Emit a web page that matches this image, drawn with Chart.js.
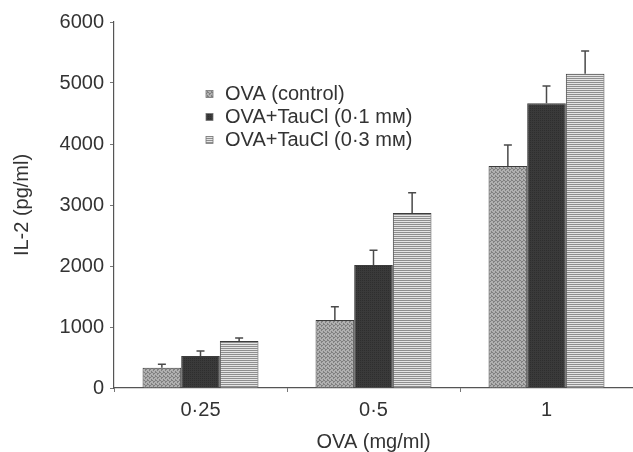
<!DOCTYPE html>
<html>
<head>
<meta charset="utf-8">
<script src="https://cdn.jsdelivr.net/npm/chart.js@4.4.1/dist/chart.umd.min.js"></script>
<style>
  html, body { margin: 0; padding: 0; background: #fff; overflow: hidden; }
  #wrap { width: 633px; height: 452px; }
</style>
</head>
<body>
<div id="wrap"><canvas id="c" width="633" height="452"></canvas></div>
<script>
// ---- data ----
const categories = ['0·25', '0·5', '1'];
const seriesNames = ['OVA (control)', 'OVA+TauCl (0·1 mᴍ)', 'OVA+TauCl (0·3 mᴍ)'];
const ovaControl = [330, 1115, 3640];
const tau01 = [525, 2015, 4670];
const tau03 = [770, 2870, 5150];
const errControl = [60, 215, 345];
const err01 = [80, 245, 280];
const err03 = [50, 330, 375];
const yTicks = [0, 1000, 2000, 3000, 4000, 5000, 6000];

const FONT = '"Liberation Sans", Arial, Helvetica, sans-serif';
const TEXT = '#333333';

function makePattern(kind) {
  const c = document.createElement('canvas');
  const ctx = c.getContext('2d');
  if (kind === 'stipple') {
    c.width = 4; c.height = 4;
    ctx.fillStyle = '#b0b0b0'; ctx.fillRect(0, 0, 4, 4);
    ctx.fillStyle = '#808080';
    [[0,0],[2,1],[1,2],[3,3],[3,0],[1,1]].forEach(p => ctx.fillRect(p[0], p[1], 1, 1));
  } else if (kind === 'dark') {
    c.width = 2; c.height = 2;
    ctx.fillStyle = '#3a3a3a'; ctx.fillRect(0, 0, 2, 2);
    ctx.fillStyle = '#2e2e2e'; ctx.fillRect(0, 0, 1, 1);
  } else {
    c.width = 2; c.height = 2;
    ctx.fillStyle = '#e4e4e4'; ctx.fillRect(0, 0, 2, 2);
    ctx.fillStyle = '#8e8e8e'; ctx.fillRect(0, 0, 2, 1);
  }
  return ctx.createPattern(c, 'repeat');
}
const fills = [makePattern('stipple'), makePattern('dark'), makePattern('lines')];
const errors = [errControl, err01, err03];

const errorBarPlugin = {
  id: 'errorBars',
  afterDatasetsDraw(chart) {
    const ctx = chart.ctx;
    const y = chart.scales.y;
    ctx.save();
    ctx.strokeStyle = '#4a4a4a';
    ctx.lineWidth = 1.5;
    chart.data.datasets.forEach((ds, di) => {
      const meta = chart.getDatasetMeta(di);
      meta.data.forEach((bar, i) => {
        const v = ds.data[i];
        const e = errors[di][i];
        const x = bar.x;
        const y0 = y.getPixelForValue(v);
        const y1 = y.getPixelForValue(v + e);
        ctx.beginPath();
        ctx.moveTo(x, y0); ctx.lineTo(x, y1);
        ctx.moveTo(x - 4, y1); ctx.lineTo(x + 4, y1);
        ctx.stroke();
      });
    });
    ctx.restore();
  }
};

const legendPlugin = {
  id: 'innerLegend',
  afterDraw(chart) {
    const ctx = chart.ctx;
    ctx.save();
    ctx.font = '20px ' + FONT;
    ctx.textBaseline = 'middle';
    const rows = [94, 117, 140];
    chart.data.datasets.forEach((ds, i) => {
      const yy = rows[i];
      ctx.fillStyle = ds.backgroundColor;
      ctx.fillRect(206, yy - 3.5, 7, 7);
      ctx.strokeStyle = '#777';
      ctx.lineWidth = 0.8;
      ctx.strokeRect(206, yy - 3.5, 7, 7);
      ctx.fillStyle = TEXT;
      ctx.fillText(ds.label, 225, yy);
    });
    ctx.restore();
  }
};

new Chart(document.getElementById('c'), {
  type: 'bar',
  data: {
    labels: categories,
    datasets: [
      { label: seriesNames[0], data: ovaControl, backgroundColor: fills[0] },
      { label: seriesNames[1], data: tau01, backgroundColor: fills[1] },
      { label: seriesNames[2], data: tau03, backgroundColor: fills[2] }
    ].map(d => Object.assign(d, { borderColor: '#3c3c3c', borderWidth: 1, borderSkipped: 'bottom' }))
  },
  options: {
    responsive: false,
    animation: false,
    devicePixelRatio: 1,
    layout: { padding: { top: 22, right: 0, left: 0, bottom: 0 } },
    plugins: { legend: { display: false }, tooltip: { enabled: false } },
    datasets: { bar: { categoryPercentage: 0.67, barPercentage: 1.0 } },
    scales: {
      x: {
        grid: { display: true, drawOnChartArea: false, offset: true, tickLength: 4, color: '#777' },
        border: { color: '#555', width: 1.2 },
        ticks: { color: TEXT, font: { family: FONT, size: 20 }, padding: 6 },
        title: { display: true, text: 'OVA (mg/ml)', color: TEXT, font: { family: FONT, size: 20, lineHeight: 1 }, padding: { top: 0, bottom: 0 } },
        afterFit(s) { s.height = 64; }
      },
      y: {
        min: 0, max: 6000,
        afterBuildTicks(s) { s.ticks = yTicks.map(v => ({ value: v })); },
        grid: { display: true, drawOnChartArea: false, tickLength: 4, color: '#777' },
        border: { color: '#555', width: 1.2 },
        ticks: { color: TEXT, font: { family: FONT, size: 20 }, padding: 6, callback: v => String(v) },
        title: { display: true, text: 'IL-2 (pg/ml)', color: TEXT, font: { family: FONT, size: 20 }, padding: { top: 10, bottom: 0 } },
        afterFit(s) { s.width = 114; }
      }
    }
  },
  plugins: [errorBarPlugin, legendPlugin]
});
</script>
</body>
</html>
